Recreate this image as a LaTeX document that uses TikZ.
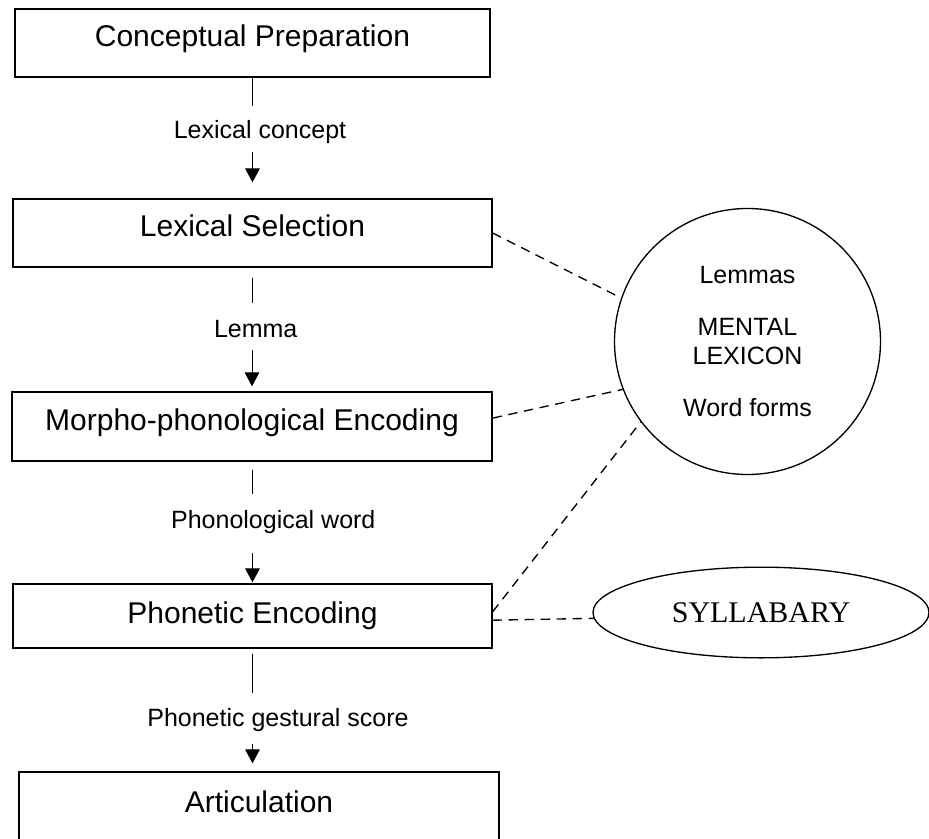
\documentclass[tikz,border=0pt]{standalone}
\usepackage{fontspec}
\setmainfont{Liberation Sans}
\newfontfamily\sylfont{Liberation Serif}
\usetikzlibrary{arrows.meta,shapes.geometric}
\begin{document}
\begin{tikzpicture}[x=0.75pt,y=-0.75pt,
  stagebox/.style={draw, line width=1pt, rectangle, inner sep=0pt,
    font=\fontsize{22.5}{27}\selectfont, text height=16pt, text depth=10.4pt},
  flowlabel/.style={inner sep=0pt, anchor=base,
    font=\fontsize{18.75}{22.5}\selectfont, text height=13.5pt, text depth=4pt},
  flowline/.style={line width=0.75pt},
  flowarrow/.style={line width=0.75pt, -{Triangle[width=11pt,length=10.5pt]}},
  linkline/.style={line width=1pt, dash pattern=on 7pt off 5pt},
]
\useasboundingbox (0,0) rectangle (929,839);
\clip (0,0) rectangle (929,839);
\fill[white] (0,0) rectangle (929,839);

% stages
\node[stagebox, minimum width=356.25pt, minimum height=51pt] (cp) at (252.5,43) {Conceptual Preparation};
\node[stagebox, minimum width=359.25pt, minimum height=51pt] (ls) at (252.5,233) {Lexical Selection};
\node[stagebox, minimum width=360pt, minimum height=51.75pt] (mp) at (252,426.5) {Morpho-phonological Encoding};
\node[stagebox, minimum width=359.25pt, minimum height=48pt, text height=21pt, text depth=10pt] (pe) at (252.5,616) {Phonetic Encoding};
\node[stagebox, minimum width=360pt, minimum height=60pt, text height=13pt, text depth=13pt] (ar) at (259,812) {Articulation};

% flow labels
\node[flowlabel] (lc) at (260,138.3) {Lexical concept};
\node[flowlabel] (lm) at (255.7,337.3) {Lemma};
\node[flowlabel] (pw) at (273.3,528.3) {Phonological word};
\node[flowlabel] (gs) at (278,726) {Phonetic gestural score};

% flow connectors
\draw[flowline, shorten >=10.7pt] (cp.south) -- (cp.south |- lc.north);
\draw[flowarrow, shorten <=6.3pt, shorten >=12pt] (lc.south -| ls.north) -- (ls.north);

\draw[flowline, shorten <=7.5pt, shorten >=12.2pt] (ls.south) -- (ls.south |- lm.north);
\draw[flowarrow, shorten <=5.5pt, shorten >=3.75pt] (lm.south -| mp.north) -- (mp.north);

\draw[flowline, shorten <=6pt, shorten >=12.2pt] (mp.south) -- (mp.south |- pw.north);
\draw[flowarrow, shorten <=14.5pt, shorten >=0.75pt] (pw.south -| pe.north) -- (pe.north);

\draw[flowline, shorten <=3.75pt, shorten >=11.25pt] (pe.south) -- (pe.south |- gs.north);
\draw[flowarrow, shorten <=9.5pt, shorten >=6pt] (gs.south -| pe.south) -- (pe.south |- ar.north);

% mental lexicon
\node[draw, circle, line width=1pt, minimum size=199.5pt, inner sep=0pt, align=center,
  font=\fontsize{18.75}{21.75}\selectfont] (lex) at (747.5,341.5)
  {Lemmas\\[17pt]MENTAL\\LEXICON\\[17pt]Word forms};

% syllabary
\node[draw, ellipse, line width=1pt, minimum width=252pt, minimum height=68pt, inner sep=0pt,
  font=\sylfont\fontsize{22.5}{27}\selectfont] (syl) at (761,612.5) {SYLLABARY};

% dashed links
\draw[linkline] (ls.east) -- (lex.161);
\draw[linkline] (mp.2) -- (lex.201);
\draw[linkline] (pe.1) -- (lex.217);
\draw[linkline] (pe.-1) -- (syl.182);
\end{tikzpicture}
\end{document}
